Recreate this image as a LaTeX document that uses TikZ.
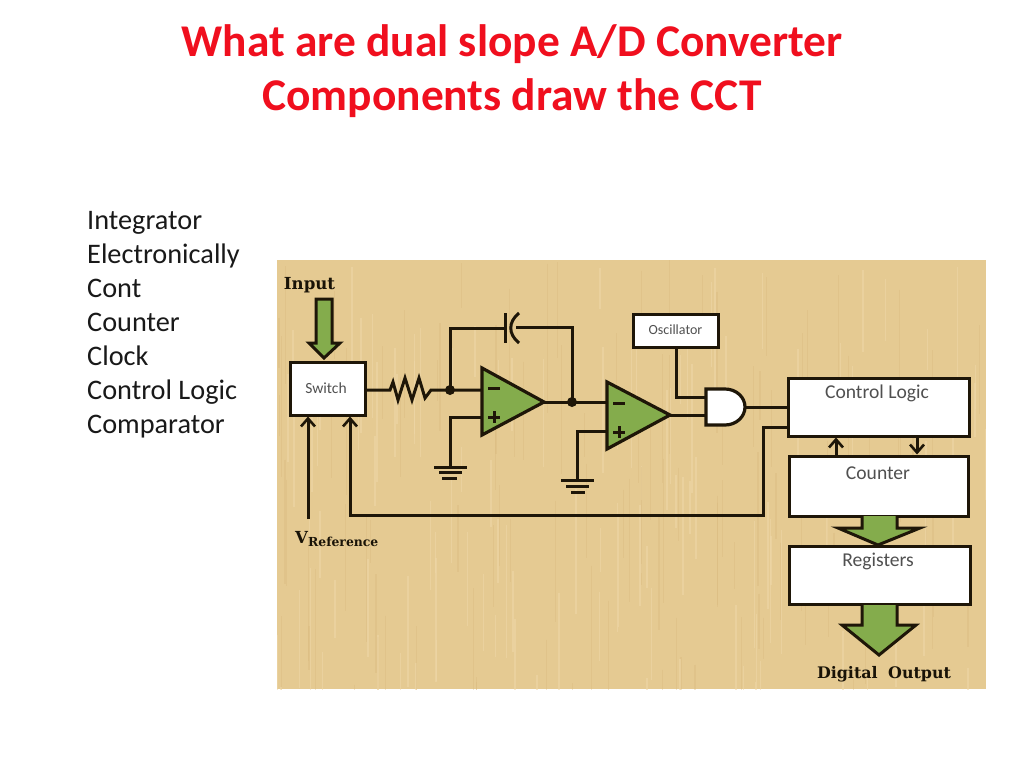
\documentclass[tikz,border=0pt]{standalone}
\usepackage{fontspec}
\setmainfont{Carlito}
\newfontfamily\labelfont{DejaVu Serif}
\usetikzlibrary{arrows.meta,calc}
\definecolor{paper}{HTML}{E5CA92}
\definecolor{paperlight}{HTML}{EFD8A8}
\definecolor{paperdark}{HTML}{D8B87C}
\definecolor{wire}{HTML}{1E1608}
\definecolor{leaf}{HTML}{84AC4C}
\definecolor{titlered}{HTML}{F00F1E}
\definecolor{boxtext}{HTML}{505050}
\tikzset{
  wireline/.style={draw=wire,line width=3pt,line join=miter},
  barb/.style={wireline,-{Straight Barb[length=8pt,width=14pt,line width=2.6pt]}},
  blockbox/.style={draw=wire,fill=white,line width=3pt,inner sep=0pt,rectangle},
  blocktext/.style={text=boxtext,inner sep=0pt,font=\fontsize{19.6}{22}\selectfont},
  amp/.style={draw=wire,fill=leaf,line width=3.2pt,line join=miter},
  bigarrow/.style={draw=wire,fill=leaf,line width=3pt,line join=miter},
  labeltext/.style={text=wire!85!black,inner sep=0pt,font=\labelfont\bfseries\fontsize{16.6}{19}\selectfont},
  dot/.style={circle,fill=wire,inner sep=0pt,minimum size=10pt}
}
\begin{document}
\begin{tikzpicture}[x=1pt,y=-1pt]
\useasboundingbox (0,0) rectangle (1024,768);
\fill[white] (0,0) rectangle (1024,768);

% Title and list
\node[text=titlered,font=\bfseries\fontsize{45.4}{54.5}\selectfont,align=center,inner sep=0pt] (title) at (512,71) {What are dual slope A/D Converter\\Components draw the CCT};
\node[anchor=north west,align=left,inner sep=0pt,text=black!90,font=\fontsize{28.3}{34}\selectfont] (list) at (87,211.5)
 {Integrator\\Electronically\\Cont\\Counter\\Clock\\Control Logic\\Comparator};

% Paper background
\fill[paper] (277,260) rectangle (986,689);
\begin{scope}
\clip (277,260) rectangle (986,689);
\pgfmathsetseed{11}
\foreach \i in {1,...,110}{
  \pgfmathsetmacro\xa{277+709*rnd}
  \pgfmathsetmacro\ya{260+429*rnd}
  \pgfmathsetmacro\ln{40+110*rnd}
  \draw[paperlight,opacity=.55,line width=1.5pt] (\xa,\ya) -- ++(0,\ln);
  \pgfmathsetmacro\xb{277+709*rnd}
  \pgfmathsetmacro\yb{260+429*rnd}
  \draw[paperdark,opacity=.35,line width=1.2pt] (\xb,\yb) -- ++(0,\ln);
}
\end{scope}

% Anchors
\coordinate (sum) at (450,390);
\coordinate (out) at (572,402);
\coordinate (a1tip) at (544,402);
\coordinate (a2tip) at (670,415);
\coordinate (g1) at (450,467);
\coordinate (g2) at (577,480);
\coordinate (fbA) at (763,427);
\coordinate (fbB) at (763,515);
\coordinate (fbC) at (350,515);
\coordinate (vref) at (308,519);

% Blocks
\node[blockbox,minimum width=75pt,minimum height=53pt] (switch) at (327.5,388.5) {};
\node[text=boxtext,inner sep=0pt,font=\fontsize{15.5}{17}\selectfont] (switchtxt) at (326,388) {Switch};
\node[blockbox,minimum width=85pt,minimum height=33pt] (osc) at (675.5,330.5) {};
\node[text=boxtext,inner sep=0pt,font=\fontsize{14}{16}\selectfont] (osctxt) at (675.5,329.5) {Oscillator};
\node[blockbox,minimum width=181pt,minimum height=58pt] (ctrl) at (878.5,407) {};
\node[blocktext] (ctrltxt) at (877,393.5) {Control Logic};
\node[blockbox,minimum width=179pt,minimum height=60pt] (cnt) at (879,486) {};
\node[blocktext] (cnttxt) at (878,473) {Counter};
\node[blockbox,minimum width=181pt,minimum height=58pt] (reg) at (879.5,575) {};
\node[blocktext] (regtxt) at (878,561.5) {Registers};

% Wires behind symbols
\draw[wireline] (switch.east |- sum) -- (390,390) -- (393,382) -- (398,400) -- (405,378) -- (412,400) -- (419,378) -- (425,398) -- (431,390) -- (sum) -- (482,390);
\draw[wireline] (sum) -- (450,328) -- (505,328);
\draw[wireline] (516,327) -- (572,327) -- (out);
\draw[wireline] (a1tip) -- (out) -- (607,402);
\draw[wireline] (482,417) -- (450,417) -- (g1);
\draw[wireline] (607,431) -- (577,431) -- (g2);
\draw[wireline] (osc.south -| 676,347) -- (676,397) -- (706,397);
\draw[wireline] (a2tip) -- (706,415);
\draw[wireline] (745,407) -- (ctrl.west |- 745,407);
\draw[wireline] (ctrl.west |- fbA) -- (fbA) -- (fbB) -- (fbC) -- (350,436);
\draw[barb] (fbC) -- (switch.south -| fbC);
\draw[barb] (vref) -- (switch.south -| vref);
\draw[barb] (cnt.north -| 836,0) -- (ctrl.south -| 836,0);
\draw[barb] (ctrl.south -| 917,0) -- (cnt.north -| 917,0);

% Capacitor
\draw[wireline] (505,313) -- (505,343);
\draw[wireline] (519,313) .. controls (508,322) and (508,334) .. (519,343);

% Op-amps
\draw[amp] (482,368) -- (a1tip) -- (482,435) -- cycle;
\draw[amp] (607,382) -- (a2tip) -- (607,449) -- cycle;
\foreach \x/\ym/\yp in {494/388/417,619/403/432}{
  \draw[draw=wire,line width=3pt] (\x-6,\ym) -- (\x+6,\ym);
  \draw[draw=wire,line width=3pt] (\x-6,\yp) -- (\x+6,\yp) (\x,\yp-6) -- (\x,\yp+6);
}
\node[dot] (sumdot) at (sum) {};
\node[dot] (outdot) at (out) {};

% Grounds
\draw[wireline] (434,467) -- (467,467) (439,472.5) -- (462,472.5) (442,478) -- (457,478);
\draw[wireline] (561,480) -- (594,480) (566,486) -- (589,486) (571,492) -- (585,492);

% AND gate
\draw[draw=wire,fill=white,line width=3.2pt] (706,389) -- (725,389) arc[start angle=-90,end angle=90,x radius=20pt,y radius=-18pt] -- (706,425) -- cycle;

% Big arrows
\draw[bigarrow] (316,299) -- (332,299) -- (332,343) -- (340,343) -- (324,358) -- (309,343) -- (316,343) -- cycle;
\draw[bigarrow] (862,516) -- (862,528) -- (838,528) -- (878,545) -- (920,528) -- (897,528) -- (897,516);
\draw[bigarrow] (862,605) -- (862,625) -- (842,625) -- (879,655) -- (916,625) -- (897,625) -- (897,605);

% Labels
\node[labeltext] (input) at (309.5,285) {Input};
\node[labeltext,anchor=west] (vlabel) at (295,539.5) {V\raisebox{-3pt}{\fontsize{12.4}{13}\selectfont Reference}};
\node[labeltext,font=\labelfont\bfseries\fontsize{15.9}{19}\selectfont] (digital) at (884,674) {Digital\hspace{5pt} Output};
\end{tikzpicture}
\end{document}
